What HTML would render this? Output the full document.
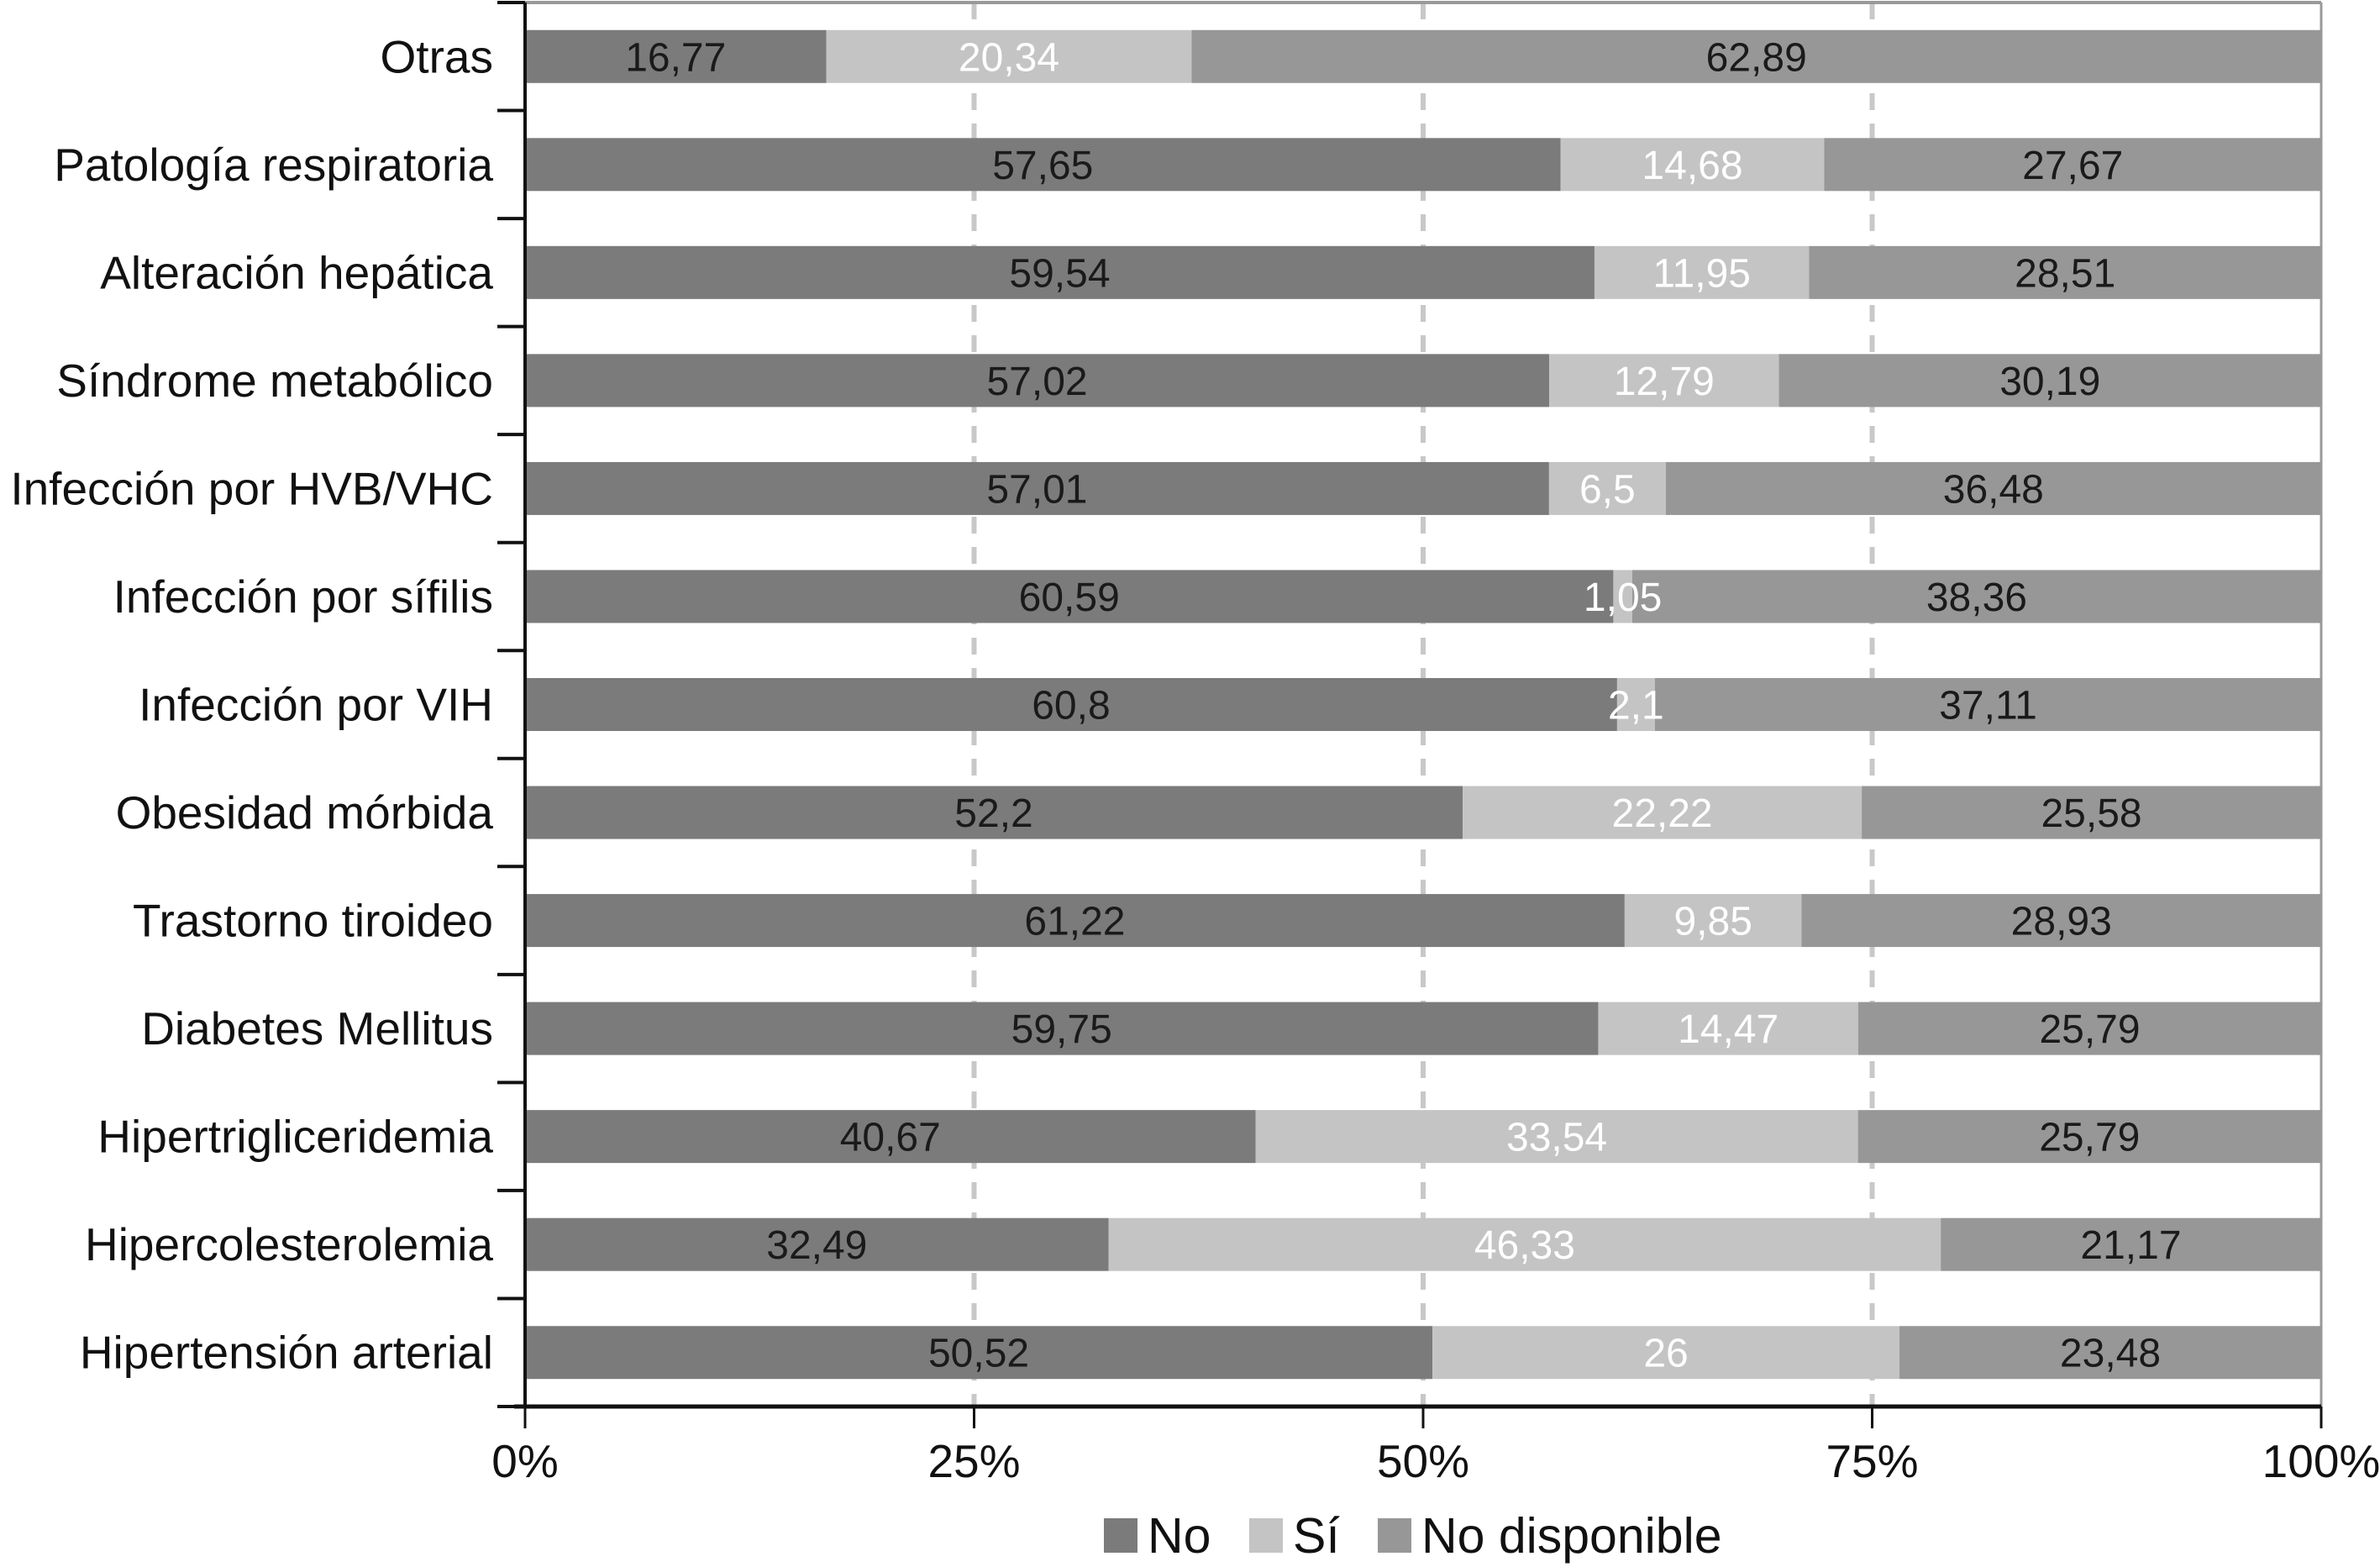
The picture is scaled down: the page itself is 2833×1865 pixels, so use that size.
<!DOCTYPE html>
<html><head><meta charset="utf-8">
<style>
html,body{margin:0;padding:0;background:#fff;}
svg{display:block;font-family:"Liberation Sans",Arial,sans-serif;}
</style></head>
<body>
<svg id="chart" width="2833" height="1865" viewBox="0 0 2833 1865" xmlns="http://www.w3.org/2000/svg">
<g id="grid"></g>
<g id="bars"></g>
<g id="vals"></g>
<g id="axes"></g>
<g id="legend"></g>
</svg>
<script>
const categories = ["Otras","Patología respiratoria","Alteración hepática","Síndrome metabólico","Infección por HVB/VHC","Infección por sífilis","Infección por VIH","Obesidad mórbida","Trastorno tiroideo","Diabetes Mellitus","Hipertrigliceridemia","Hipercolesterolemia","Hipertensión arterial"];
const seriesNo = [16.77,57.65,59.54,57.02,57.01,60.59,60.8,52.2,61.22,59.75,40.67,32.49,50.52];
const seriesSi = [20.34,14.68,11.95,12.79,6.5,1.05,2.1,22.22,9.85,14.47,33.54,46.33,26];
const seriesND = [62.89,27.67,28.51,30.19,36.48,38.36,37.11,25.58,28.93,25.79,25.79,21.17,23.48];
const tickValues = [0,25,50,75,100];
const tickLabels = ["0%","25%","50%","75%","100%"];
const seriesNames = ["No","Sí","No disponible"];

const NS="http://www.w3.org/2000/svg";
const L=625,R=2763,T=3,B=1674;
const pitch=(B-T)/categories.length;
const barH=63;
const x=v=>L+(R-L)*v/100;
const yc=i=>T+pitch*(i+0.5);
const colors=["#7b7b7b","#c4c4c4","#979797"];
const txtColors=["#1a1a1a","#ffffff","#1a1a1a"];
function mk(tag,attrs,parent){const e=document.createElementNS(NS,tag);for(const k in attrs)e.setAttribute(k,attrs[k]);parent.appendChild(e);return e;}
const grid=document.getElementById('grid'),bars=document.getElementById('bars'),vals=document.getElementById('vals'),axes=document.getElementById('axes'),legend=document.getElementById('legend');

tickValues.forEach((t,k)=>{
  if(t===0) return;
  const g=mk('line',{x1:x(t),x2:x(t),y1:T,y2:B,stroke:t===100?'#999':'#c8c8c8','stroke-width':t===100?3:6,'stroke-dasharray':t===100?'none':'20 16'},grid);
  
  
});
const topBorder=mk('line',{x1:L,x2:R,y1:T,y2:T,stroke:'#999','stroke-width':4},grid);



const series=[seriesNo,seriesSi,seriesND];
categories.forEach((c,i)=>{
  let acc=0;
  series.forEach((s,j)=>{
    const v=s[i];
    const r=mk('rect',{x:x(acc),y:yc(i)-barH/2,width:x(acc+v)-x(acc),height:barH,fill:colors[j]},bars);
    
    
    const t=mk('text',{x:(x(acc)+x(acc+v))/2,y:yc(i)+17,'text-anchor':'middle','font-size':48,fill:txtColors[j]},vals);
    t.textContent=String(v).replace('.',',');
    
    
    acc+=v;
  });
  const lab=mk('text',{x:587,y:yc(i)+19,'text-anchor':'end','font-size':55,fill:'#111'},axes);
  lab.textContent=c;
  
  
});
const ya=mk('line',{x1:L,x2:L,y1:T,y2:B,stroke:'#111','stroke-width':4},axes);


for(let i=0;i<=categories.length;i++){
  const tk=mk('line',{x1:592,x2:L,y1:T+pitch*i,y2:T+pitch*i,stroke:'#111','stroke-width':4},axes);
  
  
}
const xa=mk('line',{x1:612,x2:R,y1:B,y2:B,stroke:'#111','stroke-width':5},axes);


tickValues.forEach((t,k)=>{
  const tk=mk('line',{x1:x(t),x2:x(t),y1:B,y2:B+26,stroke:'#111','stroke-width':3},axes);
  
  
  const tl=mk('text',{x:x(t),y:1758,'text-anchor':'middle','font-size':55,fill:'#111'},axes);
  tl.textContent=tickLabels[k];
  
  
});
const lx=[1314,1487,1640];
seriesNames.forEach((n,j)=>{
  const sq=mk('rect',{x:lx[j],y:1807,width:40,height:41,fill:colors[j]},legend);
  
  
  const t=mk('text',{x:lx[j]+52,y:1848,'font-size':59,fill:'#111'},legend);
  t.textContent=n;
  
  
});
</script>
</body></html>
